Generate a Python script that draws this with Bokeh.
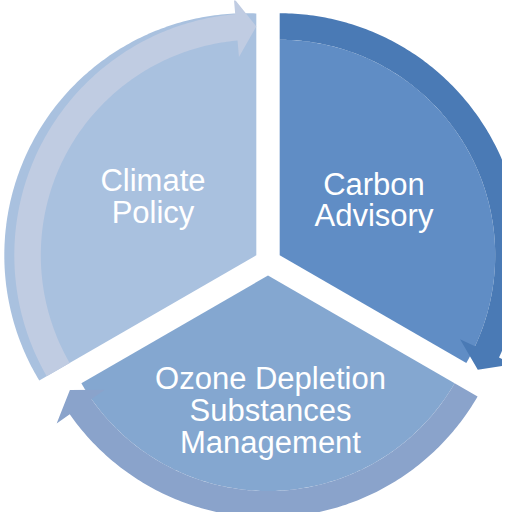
import math
import numpy as np
from bokeh.plotting import figure
from bokeh.models import Range1d
from bokeh.core.properties import value
from bokeh.embed import file_html
from bokeh.resources import INLINE

# ---- data ----
segments = ["Climate Policy", "Carbon Advisory", "Ozone Depletion Substances Management"]
label_lines = [["Climate", "Policy"], ["Carbon", "Advisory"],
               ["Ozone Depletion", "Substances", "Management"]]
shares = [1, 1, 1]
sector_colors = ["#A9C1DF", "#608DC5", "#84A7D0"]
arrow_colors = ["#C0CCE2", "#4A7AB5", "#8AA3CB"]

# ---- geometry (screen-like coordinates, y down) ----
CX, CY = 275.5, 269.5
EXPLODE = 13.5
R_SECTOR = 215.5
R_OUT = 242.0
R_BARB_OUT = 258.0
R_BARB_IN = 199.0
HEAD_DEG = 5.0
START = 210.0


def pt(cx, cy, r, deg):
    a = math.radians(deg)
    return cx + r * math.cos(a), cy - r * math.sin(a)


p = figure(width=502, height=512, output_backend="svg", toolbar_location=None,
           x_range=Range1d(8, 510), y_range=Range1d(520, 8), min_border=0)
p.axis.visible = False
p.grid.visible = False
p.outline_line_color = None
p.background_fill_color = "white"

total = sum(shares)
spans = [360.0 * s / total for s in shares]
a0s = []
acc = START
for sp in spans:
    a0s.append(acc)
    acc -= sp

apexes = []
sect_xs, sect_ys = [], []
for i, sp in enumerate(spans):
    a0 = a0s[i]
    a1 = a0 - sp
    bis = (a0 + a1) / 2
    ax, ay = pt(CX, CY, EXPLODE, bis)
    apexes.append((ax, ay))
    xs, ys = [ax], [ay]
    for t in np.linspace(a0, a1, 160):
        if i == 0:
            # slightly larger outer rim on the first segment
            ux, uy = math.cos(math.radians(t)), -math.sin(math.radians(t))
            wu = 10 * ux
            r = -wu + math.sqrt(wu * wu - 100 + R_OUT ** 2)
        else:
            r = R_SECTOR
        x, y = ax + r * math.cos(math.radians(t)), ay - r * math.sin(math.radians(t))
        xs.append(x)
        ys.append(y)
    sect_xs.append(xs)
    sect_ys.append(ys)

p.patches(sect_xs, sect_ys, fill_color=sector_colors, line_color=None)

arr_xs, arr_ys = [], []
for i, sp in enumerate(spans):
    a0 = a0s[i]
    a1 = a0 - sp
    hb = a1 + HEAD_DEG
    ax, ay = apexes[i]
    xs, ys = [], []
    for t in np.linspace(a0, hb, 160):
        x, y = pt(ax, ay, R_OUT, t)
        xs.append(x); ys.append(y)
    for r, t in [(R_BARB_OUT, hb), ((R_SECTOR + R_OUT) / 2, a1), (R_BARB_IN, hb)]:
        x, y = pt(ax, ay, r, t)
        xs.append(x); ys.append(y)
    for t in np.linspace(hb, a0, 160):
        x, y = pt(ax, ay, R_SECTOR, t)
        xs.append(x); ys.append(y)
    arr_xs.append(xs)
    arr_ys.append(ys)

p.patches(arr_xs, arr_ys, fill_color=arrow_colors, line_color=None)

# labels
label_x = [160.5, 381.5, 278.0]
label_base = [[188, 220], [192, 223], [386, 418, 450]]
tx, ty, tt = [], [], []
for i, lines in enumerate(label_lines):
    for j, line in enumerate(lines):
        tx.append(label_x[i])
        ty.append(label_base[i][j])
        tt.append(line)
p.text(x=tx, y=ty, text=tt, text_font=value("Liberation Sans"), text_font_size="31px",
       text_color="white", text_align="center", text_baseline="alphabetic")

open("out.html", "w").write(file_html(p, INLINE))
